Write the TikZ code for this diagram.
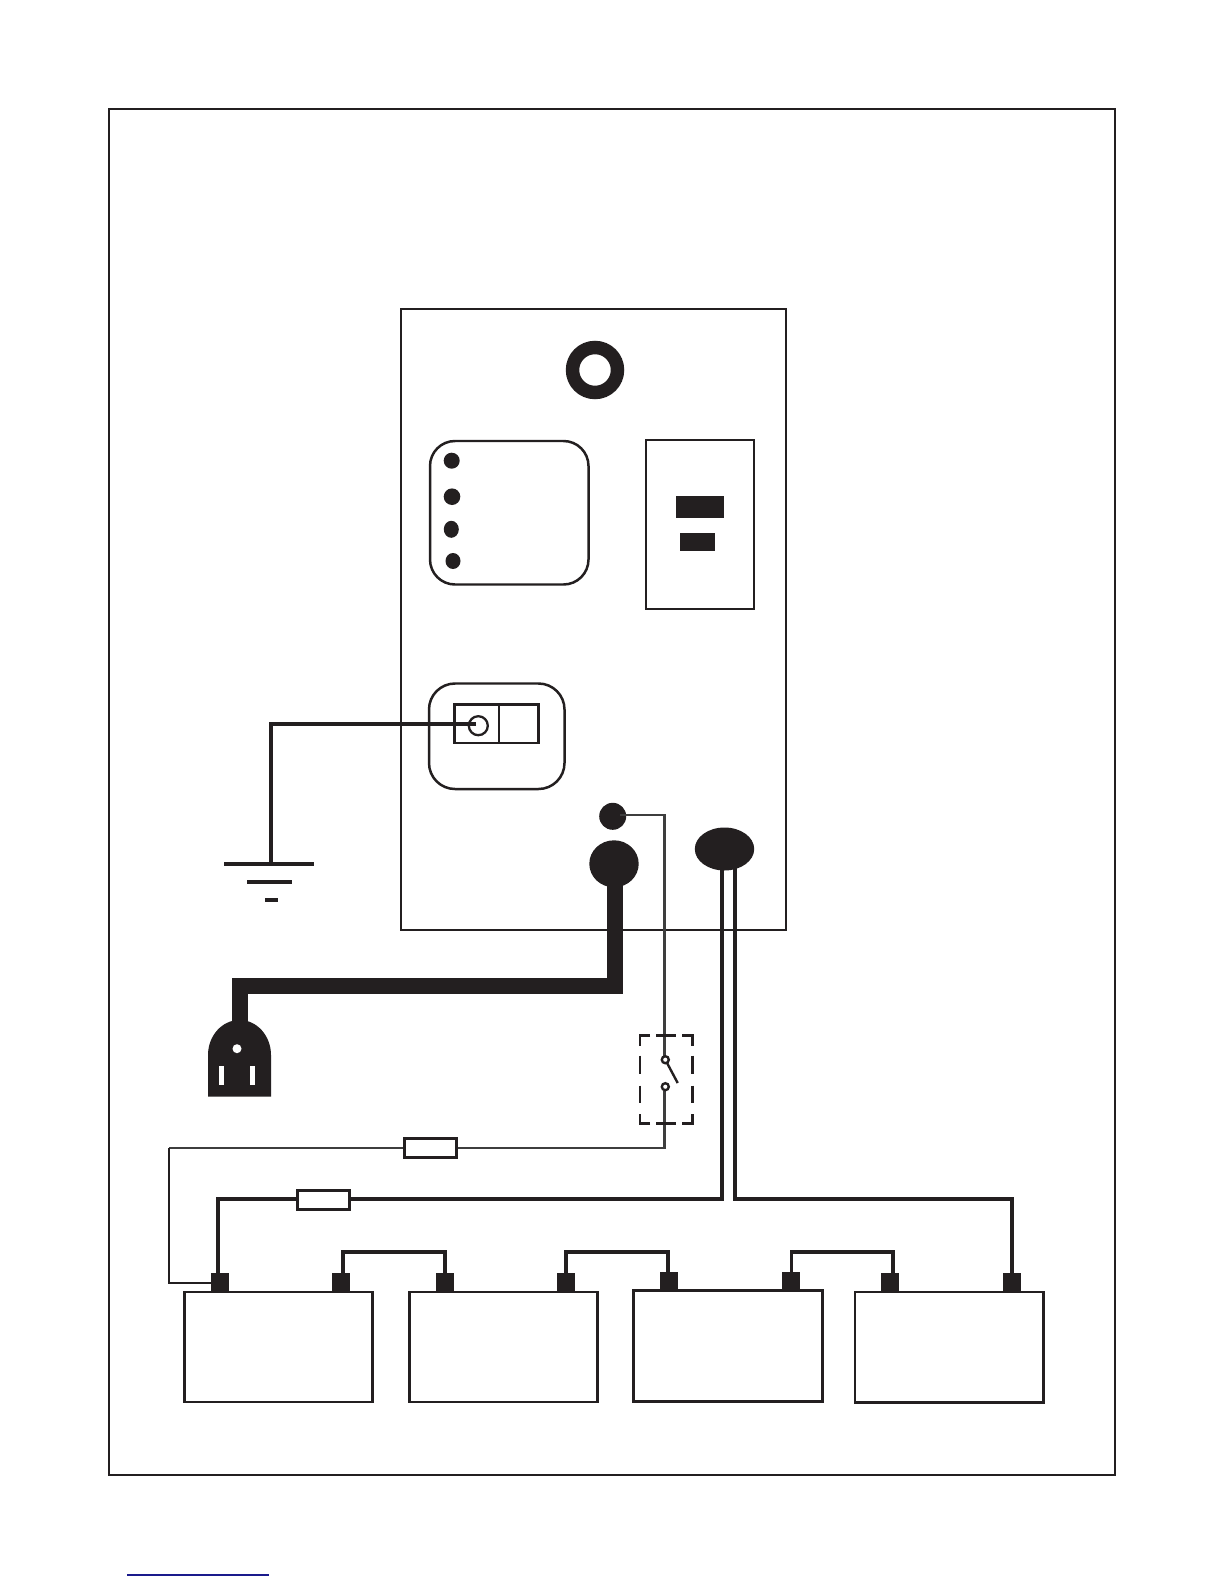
\documentclass[tikz,border=0pt]{standalone}
\usepackage{tikz}
\usetikzlibrary{shapes.geometric}
\definecolor{ink}{HTML}{231F20}
\definecolor{thinwire}{HTML}{3E3E3E}
\definecolor{bluerule}{HTML}{1A1A8C}
\tikzset{
  px/.style={line width=#1*0.5669pt},
  box/.style={draw=ink,px=2.5,fill=none},
  whitebox/.style={draw=ink,px=2.5,fill=white},
  solid ink/.style={fill=ink,draw=none},
  thick wire/.style={draw=ink,px=4.3,line join=miter},
  jumper/.style={draw=ink,px=3.6,line join=miter},
  thin wire/.style={draw=thinwire,px=2.4,line join=miter},
  cord/.style={draw=ink,px=15.5,line join=miter},
  dashbox/.style={draw=ink,px=2.6},
}
\newcommand{\rectnode}[6][]{\node[rectangle,inner sep=0pt,outer sep=0pt,minimum width={(#5-#3)*0.02cm},minimum height={(#6-#4)*0.02cm},#1] (#2) at ({(#3+#5)/2},{(#4+#6)/2}) {};}
\newcommand{\ovalnode}[6][]{\node[ellipse,inner sep=0pt,outer sep=0pt,minimum width={2*#5*0.02cm},minimum height={2*#6*0.02cm},#1] (#2) at (#3,#4) {};}
\begin{document}
\begin{tikzpicture}[x=0.02cm,y=-0.02cm]
\useasboundingbox (0,0) rectangle (1224,1584);
\fill[white] (0,0) rectangle (1224,1584);

% frame and panel
\rectnode[box]{frame}{109}{109}{1115}{1475}
\rectnode[box]{panel}{401}{309}{786}{930}

% panel contents
\node[circle,draw=ink,px=13.5,inner sep=0pt,outer sep=0pt,minimum size={45*0.02cm}] (ring) at (595,370) {};
\rectnode[box,rounded corners={25*0.02cm}]{leds}{430}{441}{588.5}{584.5}
\ovalnode[solid ink]{led1}{451.7}{460.7}{8}{8}
\ovalnode[solid ink]{led2}{452}{496.7}{8.3}{8.3}
\ovalnode[solid ink]{led3}{451.3}{529.3}{7.5}{8.5}
\ovalnode[solid ink]{led4}{453}{561}{7.5}{8}
\rectnode[box]{meter}{646}{440}{754}{609}
\rectnode[solid ink]{meterA}{676}{496}{724}{518}
\rectnode[solid ink]{meterB}{680}{533}{715}{550.7}

\rectnode[box,rounded corners={26*0.02cm}]{gndplate}{429}{683.5}{564.5}{789}
\rectnode[box]{gndleft}{454.7}{704.7}{499}{743}
\rectnode[box]{gndright}{499}{704.7}{538.3}{743}
\ovalnode[draw=ink,px=2.3]{gndstud}{478.3}{725.7}{9.5}{9.5}

% earth symbol
\rectnode[solid ink]{earthA}{224}{862}{314}{866}
\rectnode[solid ink]{earthB}{247}{880}{292}{884}
\rectnode[solid ink]{earthC}{265}{898}{278}{902}
\coordinate (earthwire) at (271,863);
\coordinate (studwire) at (476,723.7);
\draw[thick wire] (studwire) -| (earthwire);

% mains cord and plug
\ovalnode[solid ink]{acin}{614}{863.8}{24.7}{23.5}
\coordinate (cordA) at (615,875);
\coordinate (cordB) at (240,986);
\coordinate (plugtop) at (240,1024);
\draw[cord] (cordA) |- (cordB) -- (plugtop);
\fill[ink] (208,1096.7) -- (208,1055) .. controls (208,1035.7) and (222.1,1020) .. (239.5,1020)
  .. controls (256.9,1020) and (271,1035.7) .. (271,1055) -- (271,1096.7) -- cycle;
\ovalnode[fill=white,draw=none]{plugG}{237}{1048.7}{4.5}{4.5}
\rectnode[fill=white,draw=none]{plugL}{219}{1066}{224}{1085}
\rectnode[fill=white,draw=none]{plugN}{250}{1066}{255}{1085}

% remote lead with switch
\ovalnode[solid ink]{remote}{612.7}{816.3}{13.5}{13.5}
\coordinate (swtop) at (664.3,1057);
\coordinate (swbot) at (664.3,1091);
\coordinate (remoteout) at (620,814.8);
\coordinate (fusecornerR) at (664.3,1148);
\coordinate (fusecornerL) at (169,1148);
\draw[thin wire] (remoteout) -| (swtop);
\draw[thin wire] (swbot) -- (fusecornerR) -- (fusecornerL);
\draw[draw=ink,px=2.4] (fusecornerL) -- (169,1282.7) -- (212,1282.7);
\ovalnode[fill=white,draw=ink,px=2.4]{swA}{665.3}{1059.7}{3.5}{3.5}
\ovalnode[fill=white,draw=ink,px=2.4]{swB}{665.3}{1086.7}{3.5}{3.5}
\coordinate (lever) at (677.7,1083);
\draw[draw=ink,px=2.4] (swA) -- (lever);
% dashed enclosure
\draw[dashbox] (650,1035.7) -- (640,1035.7) -- (640,1045.7);
\draw[dashbox] (682.3,1035.7) -- (692.3,1035.7) -- (692.3,1045.7);
\draw[dashbox] (650,1123.7) -- (640,1123.7) -- (640,1114.3);
\draw[dashbox] (682.3,1123.7) -- (692.3,1123.7) -- (692.3,1114.3);
\draw[dashbox] (656,1035.7) -- (675.7,1035.7) (656,1123.7) -- (675.7,1123.7);
\draw[dashbox] (640,1055.7) -- (640,1074.3) (640,1085.7) -- (640,1103.3);
\draw[dashbox] (692.3,1055.7) -- (692.3,1074.3) (692.3,1085.7) -- (692.3,1103.3);

\rectnode[whitebox]{fuseA}{404.7}{1138.7}{456.3}{1157.3}

% DC leads
\ovalnode[solid ink]{dcout}{724.5}{849}{29.7}{21.5}
\coordinate (dcneg) at (722,865);
\coordinate (dcpos) at (735,865);
\coordinate (negbend) at (722,1199);
\coordinate (posbend) at (735,1199);
\coordinate (t1wire) at (217.7,1275);
\coordinate (t8wire) at (1012,1275);
\draw[thick wire] (dcneg) -- (negbend) -- (t1wire |- negbend) -- (t1wire);
\draw[thick wire] (dcpos) -- (posbend) -- (t8wire |- posbend) -- (t8wire);
\rectnode[whitebox]{fuseB}{297.7}{1190.3}{349.3}{1209.3}

% batteries
\rectnode[box]{batA}{184.7}{1292}{372.3}{1402}
\rectnode[box]{batB}{409.7}{1292}{597.3}{1402}
\rectnode[box]{batC}{633.7}{1290.7}{822.3}{1401.7}
\rectnode[box]{batD}{855}{1292}{1043.3}{1402.7}
% terminals
\rectnode[solid ink]{tA}{211}{1273}{229}{1292}
\rectnode[solid ink]{tB}{332}{1273}{350}{1292}
\rectnode[solid ink]{tC}{436}{1273}{454}{1292}
\rectnode[solid ink]{tD}{557}{1273}{575}{1292}
\rectnode[solid ink]{tE}{660}{1272}{678}{1291}
\rectnode[solid ink]{tF}{782}{1272}{800}{1291}
\rectnode[solid ink]{tG}{881}{1273}{899}{1292}
\rectnode[solid ink]{tH}{1003}{1273}{1021}{1292}
% jumpers
\coordinate (jA) at (343,1275);
\coordinate (jB) at (445,1275);
\coordinate (jC) at (566,1275);
\coordinate (jD) at (668,1275);
\coordinate (jE) at (791.3,1275);
\coordinate (jF) at (893,1275);
\draw[jumper] (jA) |- (445,1252) -- (jB);
\draw[jumper] (jC) |- (668,1252) -- (jD);
\draw[jumper] (jE) |- (893,1252) -- (jF);

% rule at the foot of the page
\rectnode[fill=bluerule,draw=none]{rule}{127}{1574.3}{269}{1575.8}
\end{tikzpicture}
\end{document}
